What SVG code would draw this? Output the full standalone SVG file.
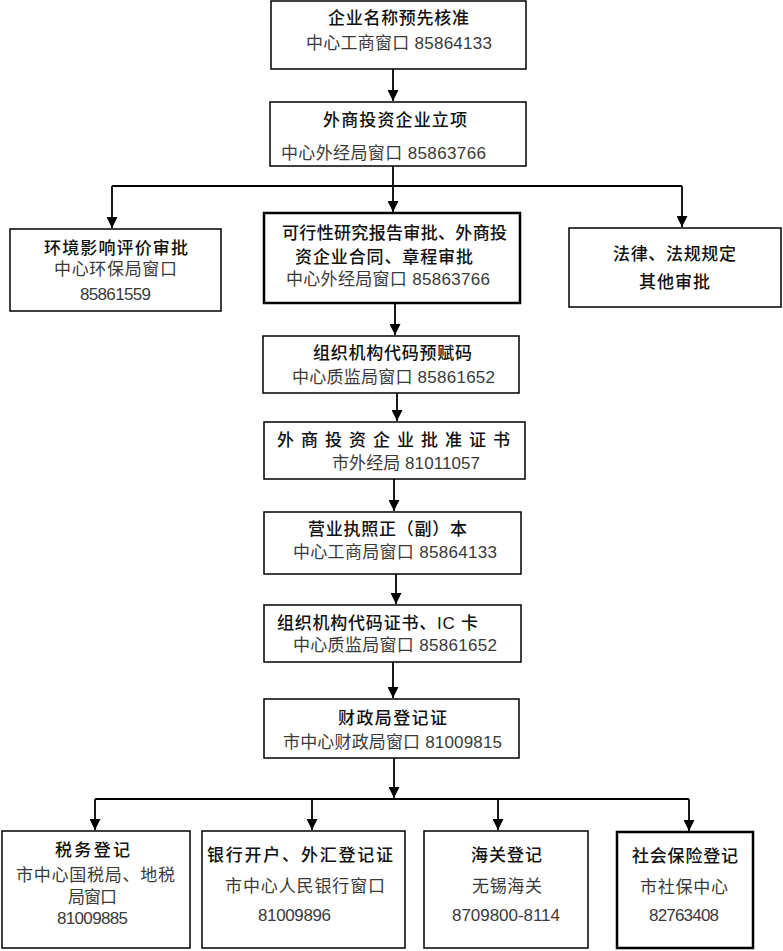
<svg xmlns="http://www.w3.org/2000/svg" width="783" height="951" viewBox="0 0 783 951">
<style>
  rect.box { fill: #fff; stroke: #000; stroke-width: 1.5; }
  rect.thick { stroke-width: 2.5; }
  text { font-family: "Liberation Sans", "Noto Sans CJK SC", sans-serif; font-size: 17px; }
  text.t { fill: #111; font-weight: 500; }
  text.s { fill: #3a3a3a; }
  .con path { fill: none; stroke: #000; stroke-width: 1.8; }
</style>
<defs>
  <marker id="arr" markerUnits="userSpaceOnUse" markerWidth="11" markerHeight="11" refX="11" refY="5.5" orient="auto" viewBox="0 0 11 11">
    <path d="M0,0 L11,5.5 L0,11 z" fill="#000"/>
  </marker>
</defs>
<rect width="783" height="951" fill="#fff"/>

<g id="connectors" class="con">
  <path d="M393,69 V101" marker-end="url(#arr)"/>
  <path d="M393,166 V186"/>
  <path d="M112,186 H682"/>
  <path d="M112,186 V228" marker-end="url(#arr)"/>
  <path d="M393,186 V212" marker-end="url(#arr)"/>
  <path d="M682,186 V227" marker-end="url(#arr)"/>
  <path d="M395,303 V335" marker-end="url(#arr)"/>
  <path d="M397,393 V421" marker-end="url(#arr)"/>
  <path d="M394,479 V511" marker-end="url(#arr)"/>
  <path d="M396,574 V604" marker-end="url(#arr)"/>
  <path d="M393,662 V698" marker-end="url(#arr)"/>
  <path d="M394,758 V798" marker-end="url(#arr)"/>
  <path d="M95,799 H689"/>
  <path d="M95,799 V830" marker-end="url(#arr)"/>
  <path d="M312,799 V830" marker-end="url(#arr)"/>
  <path d="M498,799 V830" marker-end="url(#arr)"/>
  <path d="M689,799 V831" marker-end="url(#arr)"/>
</g>

<g id="n1">
  <rect class="box" x="271" y="1" width="255" height="68"/>
  <text class="t" x="328" y="24" textLength="141">企业名称预先核准</text>
  <text class="s" x="306" y="49" textLength="186">中心工商窗口 85864133</text>
</g>
<g id="n2">
  <rect class="box" x="270" y="102" width="256" height="64"/>
  <text class="t" x="323" y="126" textLength="144">外商投资企业立项</text>
  <text class="s" x="281" y="159" textLength="205">中心外经局窗口 85863766</text>
</g>
<g id="n3">
  <rect class="box" x="10" y="229" width="211" height="82"/>
  <text class="t" x="44" y="254" textLength="144">环境影响评价审批</text>
  <text class="s" x="54" y="275" textLength="123">中心环保局窗口</text>
  <text class="s" x="80" y="300" textLength="71">85861559</text>
</g>
<g id="n4">
  <rect class="box thick" x="264" y="213" width="256" height="90"/>
  <text class="t" x="282" y="239" textLength="225">可行性研究报告审批、外商投</text>
  <text class="t" x="295" y="263" textLength="178">资企业合同、章程审批</text>
  <text class="s" x="286" y="285" textLength="204">中心外经局窗口 85863766</text>
</g>
<g id="n5">
  <rect class="box" x="569" y="228" width="212" height="79"/>
  <text class="t" x="613" y="260" textLength="123">法律、法规规定</text>
  <text class="t" x="639" y="288" textLength="71">其他审批</text>
</g>
<g id="n6">
  <rect class="box" x="263" y="336" width="256" height="57"/>
  <text class="t" x="313" y="359" textLength="159">组织机构代码预赋码</text>
  <text class="s" x="292" y="383" textLength="203">中心质监局窗口 85861652</text>
</g>
<g id="n7">
  <rect class="box" x="264" y="422" width="261" height="57"/>
  <text class="t" x="277" y="446" textLength="233">外 商 投 资 企 业 批 准 证 书</text>
  <text class="s" x="332" y="469" textLength="148">市外经局 81011057</text>
</g>
<g id="n8">
  <rect class="box" x="264" y="512" width="257" height="62"/>
  <text class="t" x="308" y="535" textLength="159">营业执照正（副）本</text>
  <text class="s" x="293" y="558" textLength="204">中心工商局窗口 85864133</text>
</g>
<g id="n9">
  <rect class="box" x="264" y="605" width="257" height="57"/>
  <text class="t" x="277" y="629" textLength="201">组织机构代码证书、IC 卡</text>
  <text class="s" x="293" y="651" textLength="204">中心质监局窗口 85861652</text>
</g>
<g id="n10">
  <rect class="box" x="264" y="699" width="255" height="59"/>
  <text class="t" x="338" y="724" textLength="109">财政局登记证</text>
  <text class="s" x="283" y="748" textLength="219">市中心财政局窗口 81009815</text>
</g>
<g id="n11">
  <rect class="box" x="2" y="831" width="188" height="117"/>
  <text class="t" x="55" y="856" textLength="75">税务登记</text>
  <text class="s" x="16" y="881" textLength="159">市中心国税局、地税</text>
  <text class="s" x="68" y="903" textLength="49">局窗口</text>
  <text class="s" x="57" y="924" textLength="71">81009885</text>
</g>
<g id="n12">
  <rect class="box" x="202" y="831" width="203" height="117"/>
  <text class="t" x="207" y="861" textLength="186">银行开户、外汇登记证</text>
  <text class="s" x="225" y="892" textLength="160">市中心人民银行窗口</text>
  <text class="s" x="258" y="921" textLength="73">81009896</text>
</g>
<g id="n13">
  <rect class="box" x="424" y="831" width="164" height="117"/>
  <text class="t" x="471" y="861" textLength="71">海关登记</text>
  <text class="s" x="472" y="892" textLength="70">无锡海关</text>
  <text class="s" x="452" y="921" textLength="108">8709800-8114</text>
</g>
<g id="n14">
  <rect class="box thick" x="617" y="832" width="136" height="116"/>
  <text class="t" x="632" y="862" textLength="106">社会保险登记</text>
  <text class="s" x="640" y="893" textLength="88">市社保中心</text>
  <text class="s" x="649" y="921" textLength="70">82763408</text>
</g>
</svg>
